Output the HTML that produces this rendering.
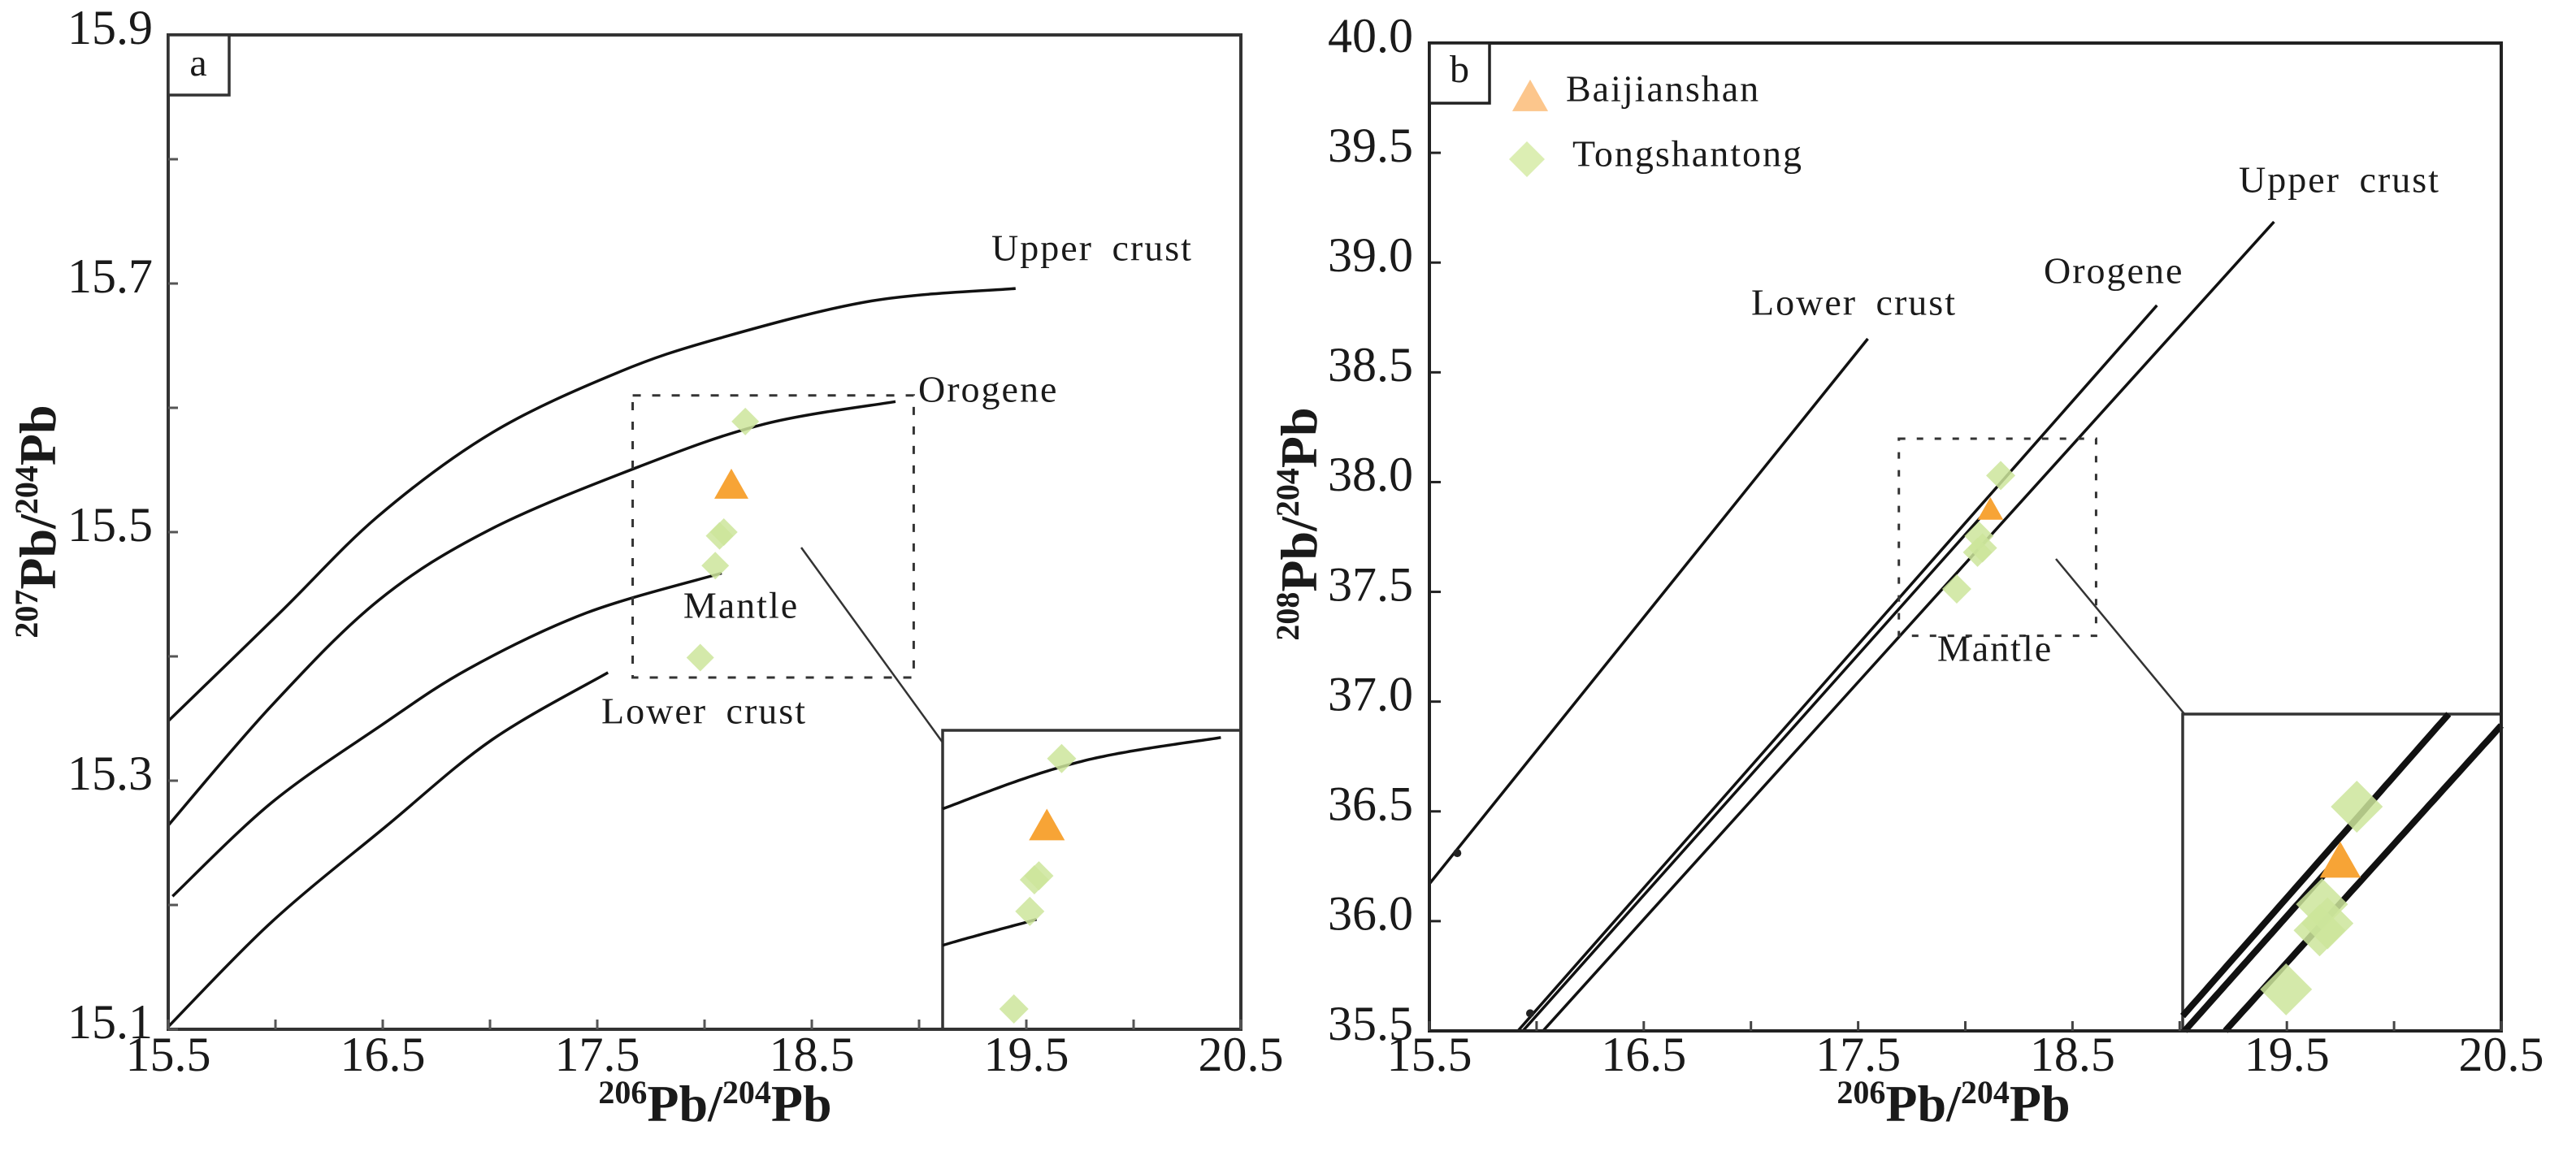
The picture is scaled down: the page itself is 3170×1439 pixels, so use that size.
<!DOCTYPE html>
<html><head><meta charset="utf-8">
<style>
html,body{margin:0;padding:0;background:#fff;width:3170px;height:1439px;overflow:hidden;}
svg{display:block;}
text{font-family:"Liberation Serif",serif;fill:#1a1a1a;}
</style></head>
<body>
<svg id="fig" width="3170" height="1439" viewBox="0 0 3170 1439" xmlns="http://www.w3.org/2000/svg">
<defs>
<marker id="arrowHead" markerWidth="10" markerHeight="10" refX="9" refY="5" orient="auto" markerUnits="userSpaceOnUse"><path d="M0,0 L10,5 L0,10" fill="none" stroke="#333" stroke-width="2"/></marker>
</defs>
<g id="layer"></g>
</svg>
<script>
// ===== Panel a data (206Pb/204Pb vs 207Pb/204Pb) =====
const aXTicks = [15.5, 16.5, 17.5, 18.5, 19.5, 20.5];
const aYTicks = [15.9, 15.7, 15.5, 15.3, 15.1];
const aUpperX = [15.5, 16.02, 16.48, 17.01, 17.59, 18.07, 18.78, 19.45];
const aUpperY = [15.348, 15.435, 15.513, 15.580, 15.628, 15.656, 15.686, 15.696];
const aOrogX = [15.5, 15.98, 16.48, 17.0, 17.7, 18.28, 18.89];
const aOrogY = [15.264, 15.36, 15.445, 15.502, 15.553, 15.587, 15.605];
const aMantleX = [15.52, 15.98, 16.48, 16.9, 17.45, 18.08];
const aMantleY = [15.207, 15.282, 15.343, 15.390, 15.435, 15.467];
const aLowerX = [15.5, 15.98, 16.52, 17.01, 17.55];
const aLowerY = [15.102, 15.186, 15.264, 15.333, 15.387];
const aTongX = [18.19, 18.07, 18.09, 18.05, 17.98];
const aTongY = [15.589, 15.497, 15.500, 15.473, 15.399];
const aBaiX = [18.125];
const aBaiY = [15.538];
const aBoxX = [17.665, 18.975];
const aBoxY = [15.61, 15.383];

// ===== Panel b data (206Pb/204Pb vs 208Pb/204Pb) =====
const bXTicks = [15.5, 16.5, 17.5, 18.5, 19.5, 20.5];
const bYTicks = [40.0, 39.5, 39.0, 38.5, 38.0, 37.5, 37.0, 36.5, 36.0, 35.5];
const bLowerX = [15.5, 17.545];
const bLowerY = [36.17, 38.653];
const bOrogX = [15.913, 18.894];
const bOrogY = [35.5, 38.805];
const bMantleX = [15.936, 18.09];
const bMantleY = [35.5, 37.86];
const bUpperX = [16.03, 19.44];
const bUpperY = [35.5, 39.186];
const bTongX = [18.165, 18.064, 18.057, 17.96, 18.08];
const bTongY = [38.03, 37.754, 37.68, 37.513, 37.70];
const bBaiX = [18.117];
const bBaiY = [37.876];
const bBoxX = [17.69, 18.61];
const bBoxY = [38.198, 37.30];

const NS = "http://www.w3.org/2000/svg";
const layer = document.getElementById('layer');
function mk(tag, attrs, parent) {
  const e = document.createElementNS(NS, tag);
  for (const k in attrs) e.setAttribute(k, attrs[k]);
  (parent || layer).appendChild(e);
  return e;
}
const A = {x0: 207, x1: 1527, y0: 43, y1: 1267, xmin: 15.5, xmax: 20.5, ymin: 15.1, ymax: 15.9};
const B = {x0: 1759, x1: 3078, y0: 53, y1: 1269, xmin: 15.5, xmax: 20.5, ymin: 35.5, ymax: 40.0};
function sx(P, v) { return P.x0 + (v - P.xmin) / (P.xmax - P.xmin) * (P.x1 - P.x0); }
function sy(P, v) { return P.y1 - (v - P.ymin) / (P.ymax - P.ymin) * (P.y1 - P.y0); }
const insA = {ox: 779, oy: 486, tx: 1160, ty: 899, s: 1.06};
const insB = {ox: 2337, oy: 540, tx: 2699, ty: 920, s: 1.61};
const rectInsA = {x0: 1160, y0: 899, x1: 1527, y1: 1267};
const rectInsB = {x0: 2686, y0: 879, x1: 3078, y1: 1269};
function ins(T, px, py) { return [T.tx + (px - T.ox) * T.s, T.ty + (py - T.oy) * T.s]; }

function linearD(P, xs, ys) {
  let d = '';
  for (let i = 0; i < xs.length; i++) d += (i ? ' L' : 'M') + sx(P, xs[i]).toFixed(1) + ',' + sy(P, ys[i]).toFixed(1);
  return d;
}
function smoothD(P, xs, ys) {
  const pts = xs.map((x, i) => [sx(P, x), sy(P, ys[i])]);
  if (pts.length < 3) return linearD(P, xs, ys);
  let d = 'M' + pts[0][0].toFixed(1) + ',' + pts[0][1].toFixed(1);
  for (let i = 0; i < pts.length - 1; i++) {
    const p0 = pts[Math.max(0, i - 1)], p1 = pts[i], p2 = pts[i + 1], p3 = pts[Math.min(pts.length - 1, i + 2)];
    const c1 = [p1[0] + (p2[0] - p0[0]) / 6, p1[1] + (p2[1] - p0[1]) / 6];
    const c2 = [p2[0] - (p3[0] - p1[0]) / 6, p2[1] - (p3[1] - p1[1]) / 6];
    d += ' C' + c1[0].toFixed(1) + ',' + c1[1].toFixed(1) + ' ' + c2[0].toFixed(1) + ',' + c2[1].toFixed(1) + ' ' + p2[0].toFixed(1) + ',' + p2[1].toFixed(1);
  }
  return d;
}
// clip segment (Liang-Barsky)
function clipSeg(a, b, R) {
  let t0 = 0, t1 = 1;
  const dx = b[0] - a[0], dy = b[1] - a[1];
  const p = [-dx, dx, -dy, dy], q = [a[0] - R.x0, R.x1 - a[0], a[1] - R.y0, R.y1 - a[1]];
  for (let i = 0; i < 4; i++) {
    if (p[i] === 0) { if (q[i] < 0) return null; }
    else {
      const r = q[i] / p[i];
      if (p[i] < 0) { if (r > t1) return null; if (r > t0) t0 = r; }
      else { if (r < t0) return null; if (r < t1) t1 = r; }
    }
  }
  return [[a[0] + t0 * dx, a[1] + t0 * dy], [a[0] + t1 * dx, a[1] + t1 * dy]];
}
// sample a path's geometry, map through inset, clip to rect
function insetD(dMain, T, R) {
  const tmp = mk('path', {d: dMain, fill: 'none'});
  const L = tmp.getTotalLength();
  const n = 240;
  const pts = [];
  for (let i = 0; i <= n; i++) {
    const p = tmp.getPointAtLength(L * i / n);
    pts.push(ins(T, p.x, p.y));
  }
  tmp.remove();
  let d = '', last = null;
  for (let i = 0; i < pts.length - 1; i++) {
    const c = clipSeg(pts[i], pts[i + 1], R);
    if (!c) { last = null; continue; }
    if (!last || Math.abs(last[0] - c[0][0]) > 0.01 || Math.abs(last[1] - c[0][1]) > 0.01) d += ' M' + c[0][0].toFixed(1) + ',' + c[0][1].toFixed(1);
    d += ' L' + c[1][0].toFixed(1) + ',' + c[1][1].toFixed(1);
    last = c[1];
  }
  return d.trim() || 'M0,0';
}
function diamond(cx, cy, r, parent, fill) {
  return mk('polygon', {points: `${cx},${cy - r} ${cx + r},${cy} ${cx},${cy + r} ${cx - r},${cy}`, fill: fill, 'fill-opacity': '0.85'}, parent);
}
function triangle(cx, cy, r, parent, fill) {
  return mk('polygon', {points: `${cx},${cy - r} ${cx + r * 1.05},${cy + r * 0.85} ${cx - r * 1.05},${cy + r * 0.85}`, fill: fill}, parent);
}
function label(x, y, txt, size, anchor, parent, extra) {
  const t = mk('text', Object.assign({x: x, y: y, 'font-size': size, 'text-anchor': anchor || 'start', 'dominant-baseline': 'middle'}, extra || {}), parent);
  t.textContent = txt;
  return t;
}

// ================= PANEL A =================
const gA = mk('g', {});



const curvesA = [[aUpperX, aUpperY, 'upper-crust-curve-a'], [aOrogX, aOrogY, 'orogene-curve-a'], [aMantleX, aMantleY, 'mantle-curve-a'], [aLowerX, aLowerY, 'lower-crust-curve-a']];
curvesA.forEach(c => {
  const p = mk('path', {d: smoothD(A, c[0], c[1]), fill: 'none', stroke: '#111', 'stroke-width': 3.5}, gA);
  
  
});
const boxA = mk('rect', {x: sx(A, aBoxX[0]), y: sy(A, aBoxY[0]), width: sx(A, aBoxX[1]) - sx(A, aBoxX[0]), height: sy(A, aBoxY[1]) - sy(A, aBoxY[0]), fill: 'none', stroke: '#333', 'stroke-width': 3, 'stroke-dasharray': '10,14'}, gA);


aTongX.forEach((x, i) => {
  const d = diamond(sx(A, x), sy(A, aTongY[i]), 17, gA, '#cde59b');
  
  
});
aBaiX.forEach((x, i) => {
  const t = triangle(sx(A, x), sy(A, aBaiY[i]), 20, gA, '#f7a436');
  
  
});
const la1 = label(1220, 310, 'Upper  crust', 46, 'start', gA, {'letter-spacing': '2', 'word-spacing': '10'});
 
const la2 = label(1130, 484, 'Orogene', 46, 'start', gA, {'letter-spacing': '2'});
 
const la3 = label(912, 750, 'Mantle', 46, 'middle', gA, {'letter-spacing': '2'});
 
const la4 = label(740, 880, 'Lower  crust', 46, 'start', gA, {'letter-spacing': '2', 'word-spacing': '10'});
 
const arA = mk('line', {x1: 986, y1: 674, x2: 1192, y2: 958, stroke: '#333', 'stroke-width': 2.5, 'marker-end': 'url(#arrowHead)'}, gA);
 
const inA = mk('g', {}, gA);


mk('rect', {x: 1160, y: 899, width: 367, height: 368, fill: '#fff', stroke: '#333', 'stroke-width': 3.5}, inA);
curvesA.forEach(c => {
  const p = mk('path', {d: insetD(smoothD(A, c[0], c[1]), insA, rectInsA), fill: 'none', stroke: '#111', 'stroke-width': 3.5}, inA);
  
  
});
aTongX.forEach((x, i) => {
  const [px, py] = ins(insA, sx(A, x), sy(A, aTongY[i]));
  const d = diamond(px, py, 18, inA, '#cde59b');
  
  
});
aBaiX.forEach((x, i) => {
  const [px, py] = ins(insA, sx(A, x), sy(A, aBaiY[i]));
  const t = triangle(px, py, 21, inA, '#f7a436');
  
  
});
const frA = mk('rect', {x: A.x0, y: A.y0, width: A.x1 - A.x0, height: A.y1 - A.y0, fill: 'none', stroke: '#333', 'stroke-width': 4}, gA);
 
for (let v = 15.5; v <= 20.51; v += 0.5) {
  mk('line', {x1: sx(A, v), x2: sx(A, v), y1: A.y1, y2: A.y1 - 12, stroke: '#555', 'stroke-width': 3}, gA);
}
for (let v = 15.1; v <= 15.91; v += 0.1) {
  mk('line', {x1: A.x0, x2: A.x0 + 12, y1: sy(A, v), y2: sy(A, v), stroke: '#555', 'stroke-width': 3}, gA);
}
aXTicks.forEach(v => {
  const t = label(sx(A, v), 1304, v.toFixed(1), 60, 'middle', gA);
   
});
aYTicks.forEach(v => {
  const t = label(188, sy(A, v) - 3, v.toFixed(1), 60, 'end', gA);
   
});
const lbA = mk('rect', {x: 207, y: 43, width: 75, height: 74, fill: '#fff', stroke: '#333', 'stroke-width': 3.5}, gA);
 
const ltA = label(244, 82, 'a', 48, 'middle', gA);
 

const xtA = mk('text', {x: 880, y: 1380, 'font-size': 64, 'font-weight': 'bold', 'text-anchor': 'middle'}, gA);
xtA.innerHTML = '<tspan font-size="40" dy="-22">206</tspan><tspan dy="22">Pb/</tspan><tspan font-size="40" dy="-22">204</tspan><tspan dy="22">Pb</tspan>';
 
const ytA = mk('text', {x: 0, y: 0, 'font-size': 64, 'font-weight': 'bold', 'text-anchor': 'middle', transform: 'translate(68,642) rotate(-90)'}, gA);
ytA.innerHTML = '<tspan font-size="40" dy="-22">207</tspan><tspan dy="22">Pb/</tspan><tspan font-size="40" dy="-22">204</tspan><tspan dy="22">Pb</tspan>';
 

// ================= PANEL B =================
const gB = mk('g', {});


const rectB = {x0: B.x0, y0: B.y0, x1: B.x1, y1: B.y1};
const linesB = [[bLowerX, bLowerY, 'lower-crust-line-b'], [bOrogX, bOrogY, 'orogene-line-b'], [bMantleX, bMantleY, 'mantle-line-b'], [bUpperX, bUpperY, 'upper-crust-line-b']];
linesB.forEach(c => {
  const p = mk('path', {d: linearD(B, c[0], c[1]), fill: 'none', stroke: '#111', 'stroke-width': 3.5}, gB);
  
  
});
mk('circle', {cx: sx(B, 15.63), cy: sy(B, 36.31), r: 5, fill: '#222'}, gB);
mk('circle', {cx: sx(B, 15.97), cy: sy(B, 35.58), r: 5, fill: '#222'}, gB);
const boxB = mk('rect', {x: sx(B, bBoxX[0]), y: sy(B, bBoxY[0]), width: sx(B, bBoxX[1]) - sx(B, bBoxX[0]), height: sy(B, bBoxY[1]) - sy(B, bBoxY[0]), fill: 'none', stroke: '#333', 'stroke-width': 3, 'stroke-dasharray': '8,14'}, gB);
 
bTongX.forEach((x, i) => {
  const d = diamond(sx(B, x), sy(B, bTongY[i]), 18, gB, '#cde59b');
  
  
});
bBaiX.forEach((x, i) => {
  const t = triangle(sx(B, x), sy(B, bBaiY[i]), 15, gB, '#f7a436');
  
  
});
const lb1 = label(2755, 226, 'Upper  crust', 46, 'start', gB, {'letter-spacing': '2', 'word-spacing': '10'});
 
const lb2 = label(2515, 338, 'Orogene', 46, 'start', gB, {'letter-spacing': '2'});
 
const lb3 = label(2155, 377, 'Lower  crust', 46, 'start', gB, {'letter-spacing': '2', 'word-spacing': '10'});
 
const lb4 = label(2455, 803, 'Mantle', 46, 'middle', gB, {'letter-spacing': '2'});
 
const arB = mk('line', {x1: 2530, y1: 688, x2: 2742, y2: 944, stroke: '#333', 'stroke-width': 2.5, 'marker-end': 'url(#arrowHead)'}, gB);
 
const inB = mk('g', {}, gB);


mk('rect', {x: 2686, y: 879, width: 392, height: 390, fill: '#fff', stroke: '#333', 'stroke-width': 3.5}, inB);
linesB.forEach(c => {
  const p = mk('path', {d: insetD(linearD(B, c[0], c[1]), insB, rectInsB), fill: 'none', stroke: '#111', 'stroke-width': 8}, inB);
  
  
});
bTongX.forEach((x, i) => {
  const [px, py] = ins(insB, sx(B, x), sy(B, bTongY[i]));
  const d = diamond(px, py, 32, inB, '#cde59b');
  
  
});
bBaiX.forEach((x, i) => {
  const [px, py] = ins(insB, sx(B, x), sy(B, bBaiY[i]));
  const t = triangle(px, py, 24, inB, '#f7a436');
  
  
});
const frB = mk('rect', {x: B.x0, y: B.y0, width: B.x1 - B.x0, height: B.y1 - B.y0, fill: 'none', stroke: '#222', 'stroke-width': 4}, gB);
 
for (let v = 15.5; v <= 20.51; v += 0.5) {
  mk('line', {x1: sx(B, v), x2: sx(B, v), y1: B.y1, y2: B.y1 - 12, stroke: '#444', 'stroke-width': 3}, gB);
}
bYTicks.forEach(v => {
  mk('line', {x1: B.x0, x2: B.x0 + 14, y1: sy(B, v), y2: sy(B, v), stroke: '#222', 'stroke-width': 3}, gB);
  const t = label(1739, sy(B, v) - 3, v.toFixed(1), 60, 'end', gB);
   
});
bXTicks.forEach(v => {
  const t = label(sx(B, v), 1304, v.toFixed(1), 60, 'middle', gB);
   
});
const lbB = mk('rect', {x: 1759, y: 53, width: 74, height: 74, fill: '#fff', stroke: '#222', 'stroke-width': 3.5}, gB);
 
const ltB = label(1796, 90, 'b', 48, 'middle', gB);
 
const lg = mk('g', {}, gB);


const lgT = triangle(1883, 119, 21, lg, '#fcc68c');
 
const lgT2 = label(1927, 114, 'Baijianshan', 46, 'start', lg, {'letter-spacing': '2'});
 
const lgD = diamond(1879, 196, 22, lg, '#d6eba6');
 
const lgD2 = label(1935, 194, 'Tongshantong', 46, 'start', lg, {'letter-spacing': '2'});
 
const xtB = mk('text', {x: 2404, y: 1380, 'font-size': 64, 'font-weight': 'bold', 'text-anchor': 'middle'}, gB);
xtB.innerHTML = '<tspan font-size="40" dy="-22">206</tspan><tspan dy="22">Pb/</tspan><tspan font-size="40" dy="-22">204</tspan><tspan dy="22">Pb</tspan>';
 
const ytB = mk('text', {x: 0, y: 0, 'font-size': 64, 'font-weight': 'bold', 'text-anchor': 'middle', transform: 'translate(1620,645) rotate(-90)'}, gB);
ytB.innerHTML = '<tspan font-size="40" dy="-22">208</tspan><tspan dy="22">Pb/</tspan><tspan font-size="40" dy="-22">204</tspan><tspan dy="22">Pb</tspan>';
 
</script>
</body></html>
